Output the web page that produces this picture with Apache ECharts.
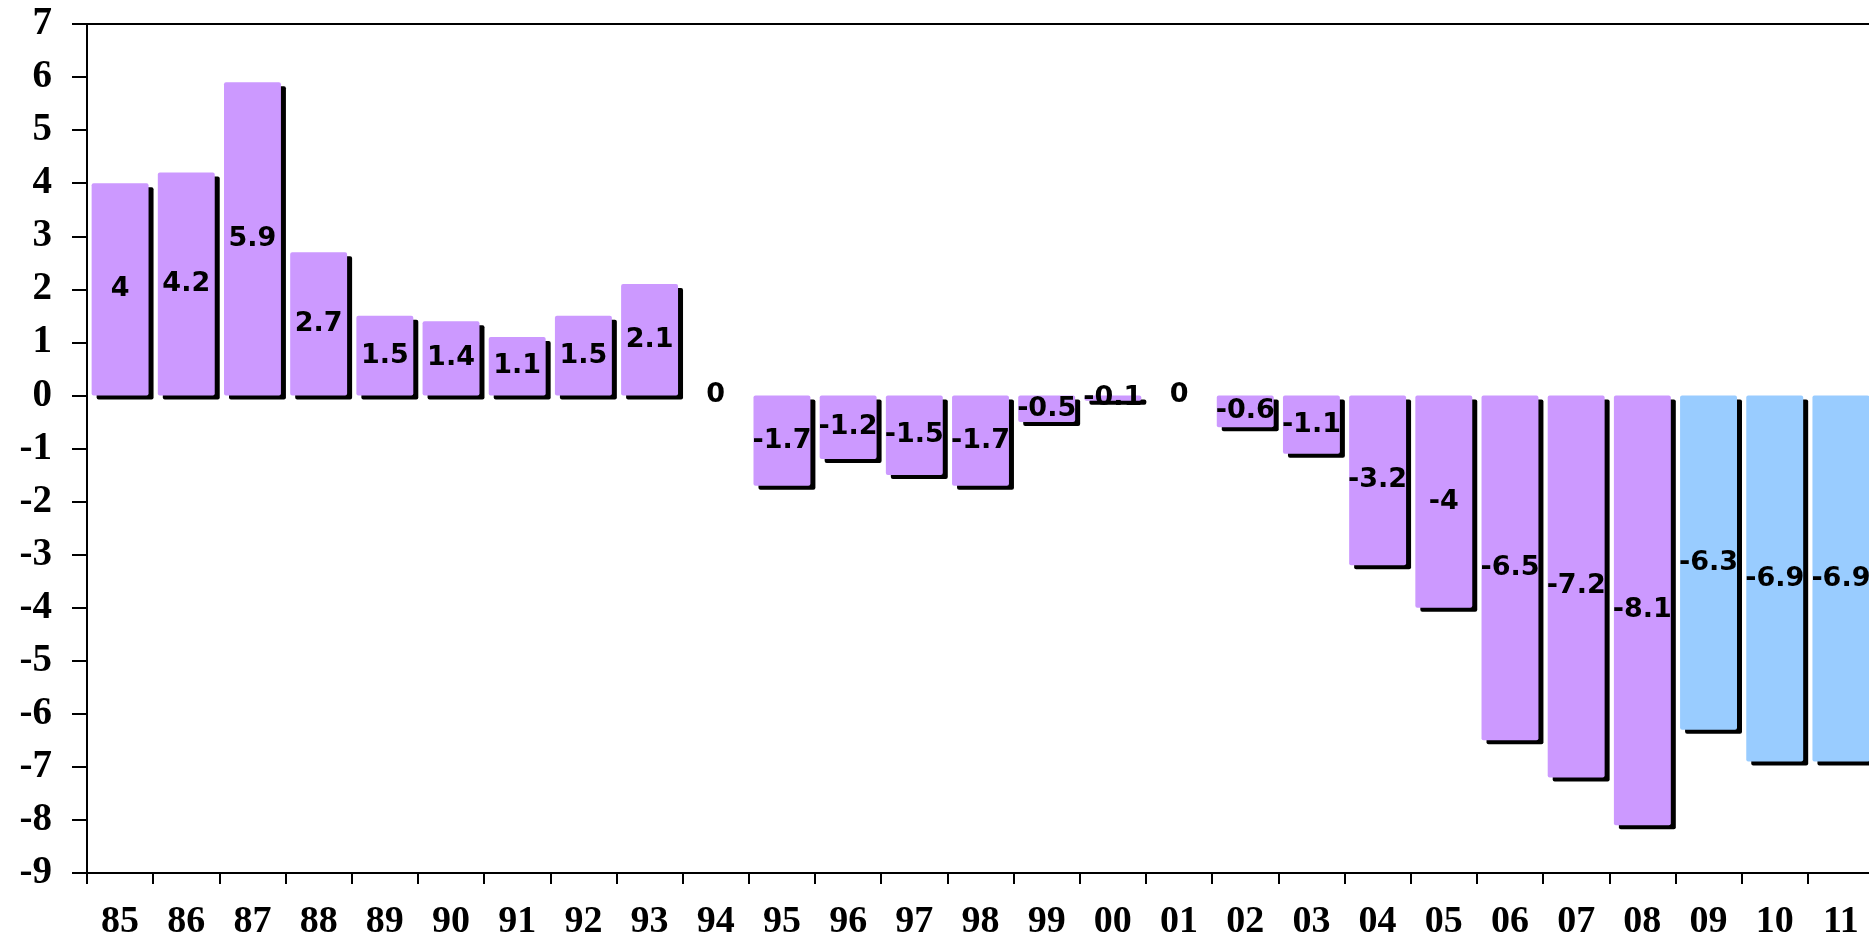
<!DOCTYPE html>
<html>
<head>
<meta charset="utf-8">
<script src="https://cdn.jsdelivr.net/npm/echarts@6/dist/echarts.min.js"></script>
<style>
    html, body { margin: 0; padding: 0; background: #fff; }
    #chart { width: 1869px; height: 936px; }
</style>
</head>
<body>
<div id="chart"></div>
<script>
    // years (two digits) and values
    const years = ['85', '86', '87', '88', '89', '90', '91', '92', '93', '94', '95', '96', '97', '98',
        '99', '00', '01', '02', '03', '04', '05', '06', '07', '08', '09', '10', '11'];
    const values = [4, 4.2, 5.9, 2.7, 1.5, 1.4, 1.1, 1.5, 2.1, 0, -1.7, -1.2, -1.5, -1.7,
        -0.5, -0.1, 0, -0.6, -1.1, -3.2, -4, -6.5, -7.2, -8.1, -6.3, -6.9, -6.9];
    // last years are projections, drawn in blue
    const projectedYears = ['09', '10', '11'];
    const yTicks = { min: -9, max: 7, interval: 1 };

    const purple = '#CC99FF';
    const blue = '#99CCFF';

    let barData = values.map((v, i) => ({
        value: v,
        itemStyle: { color: projectedYears.includes(years[i]) ? blue : purple }
    }));

    let chart = echarts.init(document.getElementById('chart'));
    chart.setOption({
        animation: false,
        grid: { left: 87, top: 24, width: 1787, bottom: 63, outerBoundsMode: 'none' },
        xAxis: [
            {
                type: 'category',
                data: years,
                position: 'bottom',
                axisLine: { onZero: false, lineStyle: { color: '#000', width: 2 } },
                axisTick: { show: true, length: 11, lineStyle: { color: '#000', width: 2 } },
                axisLabel: {
                    margin: 30,
                    color: '#000',
                    fontFamily: 'Liberation Serif',
                    fontWeight: 'bold',
                    fontSize: 38
                }
            },
            {
                // top border line
                type: 'category',
                data: years,
                position: 'top',
                axisLine: { onZero: false, lineStyle: { color: '#000', width: 2 } },
                axisTick: { show: false },
                axisLabel: { show: false }
            }
        ],
        yAxis: {
            type: 'value',
            min: yTicks.min,
            max: yTicks.max,
            interval: yTicks.interval,
            splitLine: { show: false },
            axisLine: { show: true, lineStyle: { color: '#000', width: 2 } },
            axisTick: { show: true, length: 15, lineStyle: { color: '#000', width: 2 } },
            axisLabel: {
                margin: 35,
                color: '#000',
                fontFamily: 'Liberation Serif',
                fontWeight: 'bold',
                fontSize: 39
            }
        },
        series: [
            {
                type: 'bar',
                data: barData,
                barWidth: '86%',
                itemStyle: {
                    borderRadius: 2,
                    shadowColor: '#000',
                    shadowBlur: 0,
                    shadowOffsetX: 5,
                    shadowOffsetY: 4
                },
                label: {
                    show: true,
                    position: 'inside',
                    color: '#000',
                    fontFamily: 'DejaVu Sans',
                    fontWeight: 'bold',
                    fontSize: 27
                }
            }
        ]
    });
</script>
</body>
</html>
